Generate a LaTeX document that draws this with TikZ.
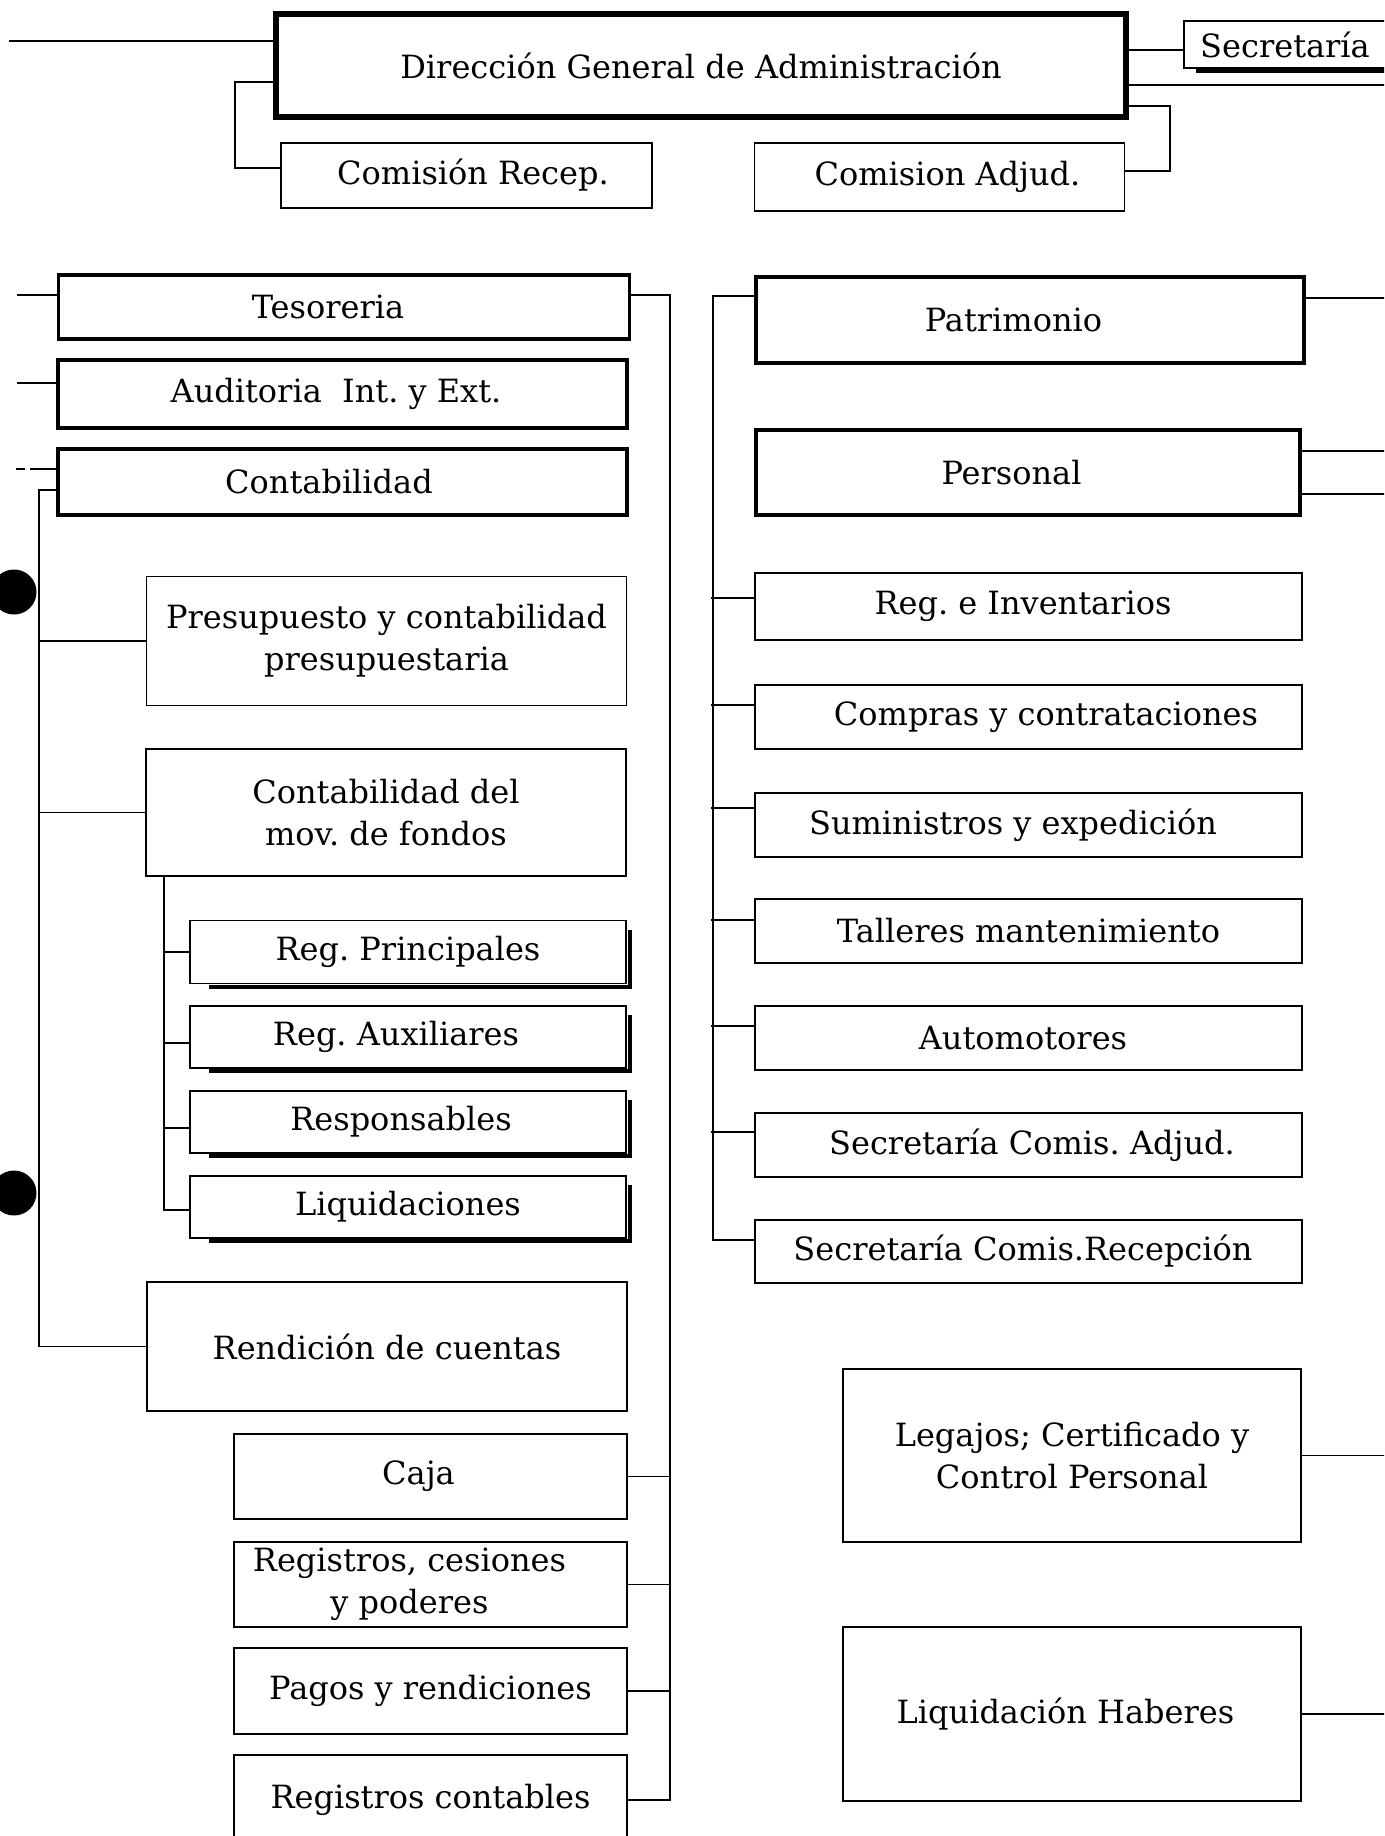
\documentclass[tikz,border=0pt]{standalone}
\usepackage{fontspec}
\setmainfont{DejaVu Serif}
\newcommand\fs{\fontsize{32}{42}\selectfont}
\tikzset{
 box/.style={draw, line width=1.8pt, inner sep=0pt, font=\fs, align=center},
 thickbox/.style={box, line width=3.5pt},
 mainbox/.style={box, line width=6pt},
 txt/.style={inner sep=0pt, font=\fs, align=center},
 conn/.style={line width=1.8pt},
 dot/.style={circle, fill=black, inner sep=0pt, minimum size=45pt},
 shadowline/.style={line width=4pt}
}
\begin{document}
\frenchspacing
\begin{tikzpicture}[x=1pt,y=-1pt]
\useasboundingbox (0,0) rectangle (1384,1836);
\clip (0,0) rectangle (1384,1836);
\fill[white] (0,0) rectangle (1384,1836);

% top
\node[mainbox, minimum width=850, minimum height=103] (main) at (701,65.5) {Dirección General de Administración};
\node[box, minimum width=371, minimum height=65] (crecep) at (466.5,175.5) {\hspace*{13pt}Comisión Recep.};
\node[box, minimum width=370, minimum height=68] (cadj) at (939.5,177) {\hspace*{16pt}Comision Adjud.};
\node[box, minimum width=236, minimum height=47] (secbox) at (1302,44.5) {};
\node[txt] (sect) at (1285,45) {Secretaría};
\draw[shadowline] ([xshift=13pt,yshift=-2pt]secbox.south west) -- ([yshift=-2pt]secbox.south east);

\coordinate (tl) at (9,41);
\draw[conn] (tl) -- ([yshift=24.5pt]main.west);
\draw[conn] ([yshift=-16.5pt]main.west) -- ++(-38,0) |- ([yshift=7.5pt]crecep.west);
\draw[conn] ([yshift=-40.5pt]main.east) -- ++(41,0) |- ([yshift=6pt]cadj.east);
\draw[conn] ([yshift=15.5pt]main.east) -- ([yshift=-5.5pt]secbox.west);
\draw[conn] ([yshift=-19.5pt]main.east) -- ++(300,0);

% left column
\node[thickbox, minimum width=571, minimum height=64] (teso) at (344,307) {\hspace*{-32pt}Tesoreria};
\node[thickbox, minimum width=569, minimum height=68] (audi) at (342.5,394) {\hspace*{-13pt}Auditoria\ \ Int. y Ext.};
\node[thickbox, minimum width=569, minimum height=66] (cont) at (342.5,482) {\hspace*{-27pt}Contabilidad};
\node[box, minimum width=480, minimum height=129] (presup) at (386.5,641) {Presupuesto y contabilidad\\presupuestaria};
\node[box, minimum width=480, minimum height=127] (movf) at (386,812.5) {Contabilidad del\\mov. de fondos};
\node[box, minimum width=436, minimum height=63] (regp) at (408,952) {Reg. Principales};
\node[box, minimum width=436, minimum height=62] (regax) at (408,1037) {\hspace*{-24pt}Reg. Auxiliares};
\node[box, minimum width=436, minimum height=62] (resp) at (408,1122) {\hspace*{-14pt}Responsables};
\node[box, minimum width=436, minimum height=62] (liq) at (408,1207) {Liquidaciones};
\node[box, minimum width=480, minimum height=129] (rend) at (387,1346.5) {Rendición de cuentas};
\node[box, minimum width=393, minimum height=85] (caja) at (430.5,1476.5) {\hspace*{-24pt}Caja};
\node[box, minimum width=393, minimum height=85] (rcp) at (430.5,1584.5) {\hspace*{-42pt}Registros, cesiones\\\hspace*{-42pt}y poderes};
\node[box, minimum width=393, minimum height=86] (pagos) at (430.5,1691) {Pagos y rendiciones};
\node[box, minimum width=393, minimum height=90] (regc) at (430.5,1800) {Registros contables};

\node[dot] (d1) at (14,592) {};
\node[dot] (d2) at (14,1193) {};

\draw[conn] ([yshift=12pt]teso.west) -- ++(-40,0);
\draw[conn] ([yshift=11pt]audi.west) -- ++(-39,0);
\draw[conn] ([yshift=13pt]cont.west) -- ++(-26,0);
\draw[conn] ([yshift=13pt]cont.west) ++(-31,0) -- ++(-9,0);

\coordinate (lvt) at (39,490);
\coordinate (lvb) at (39,1346.5);
\draw[conn] ([yshift=-8pt]cont.west) -- (lvt) -- (lvb) -- (rend.west);
\draw[conn] (presup.west) -- (presup.west -| lvt);
\draw[conn] (movf.west) -- (movf.west -| lvt);

\coordinate (ivt) at (164,876);
\coordinate (ivb) at (164,1210);
\draw[conn] (ivt) -- (ivb) -- (ivb -| liq.west);
\draw[conn] (regp.west) -- (regp.west -| ivt);
\draw[conn] ([yshift=-6pt]regax.west) -- ++(-26,0);
\draw[conn] ([yshift=-6pt]resp.west) -- ++(-26,0);

\foreach \n in {regp,regax,resp,liq}
  \draw[shadowline] ([xshift=20pt,yshift=-2.5pt]\n.south west) -- ([xshift=3pt,yshift=-2.5pt]\n.south east) -- ([xshift=3pt,yshift=-10pt]\n.north east);

\coordinate (tvt) at (670,295);
\coordinate (tvb) at (670,1800);
\draw[conn] ([yshift=12pt]teso.east) -- (tvt) -- (tvb) -- (regc.east);
\draw[conn] (caja.east) -- (caja.east -| tvt);
\draw[conn] (rcp.east) -- (rcp.east -| tvt);
\draw[conn] (pagos.east) -- (pagos.east -| tvt);

% right column
\node[thickbox, minimum width=548, minimum height=86] (patr) at (1030,320) {\hspace*{-33pt}Patrimonio};
\node[thickbox, minimum width=544, minimum height=85] (pers) at (1028,472.5) {\hspace*{-33pt}Personal};
\node[box, minimum width=547, minimum height=67] (reginv) at (1028.5,606.5) {\hspace*{-11pt}Reg. e Inventarios};
\node[box, minimum width=547, minimum height=64] (compr) at (1028.5,717) {\hspace*{35pt}Compras y contrataciones};
\node[box, minimum width=547, minimum height=64] (sumin) at (1028.5,825) {\hspace*{-31pt}Suministros y expedición};
\node[box, minimum width=547, minimum height=64] (taller) at (1028.5,931) {Talleres mantenimiento};
\node[box, minimum width=547, minimum height=64] (auto) at (1028.5,1038) {\hspace*{-11pt}Automotores};
\node[box, minimum width=547, minimum height=64] (scadj) at (1028.5,1145) {\hspace*{7pt}Secretaría Comis. Adjud.};
\node[box, minimum width=547, minimum height=63] (screc) at (1028.5,1251.5) {\hspace*{-11pt}Secretaría Comis.Recepción};
\node[box, minimum width=458, minimum height=173] (leg) at (1072,1455.5) {Legajos; Certificado y\\Control Personal};
\node[box, minimum width=458, minimum height=174] (liqh) at (1072,1714) {\hspace*{-13pt}Liquidación Haberes};

\coordinate (rvt) at (713,296);
\coordinate (rvb) at (713,1240);
\draw[conn] ([yshift=24pt]patr.west) -- (rvt) -- (rvb) -- ([yshift=11.5pt]screc.west);
\draw[conn] ([yshift=8.5pt]reginv.west) -- ++(-43,0);
\draw[conn] ([yshift=12pt]compr.west) -- ++(-43,0);
\draw[conn] ([yshift=17pt]sumin.west) -- ++(-43,0);
\draw[conn] ([yshift=11pt]taller.west) -- ++(-43,0);
\draw[conn] ([yshift=12pt]auto.west) -- ++(-43,0);
\draw[conn] ([yshift=13pt]scadj.west) -- ++(-43,0);

\draw[conn] ([yshift=22pt]patr.east) -- ++(200,0);
\draw[conn] ([yshift=21.5pt]pers.east) -- ++(200,0);
\draw[conn] ([yshift=-21.5pt]pers.east) -- ++(200,0);
\draw[conn] (leg.east) -- ++(200,0);
\draw[conn] (liqh.east) -- ++(200,0);
\end{tikzpicture}
\end{document}
